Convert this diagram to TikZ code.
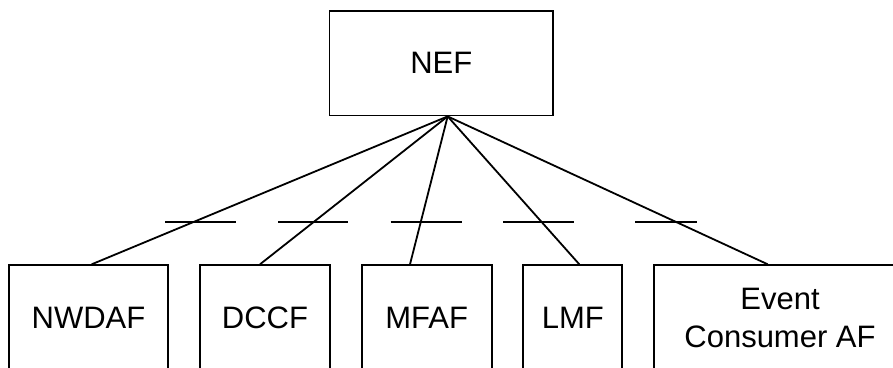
\documentclass[tikz,border=0pt]{standalone}
\usepackage{fontspec}
\setmainfont{Liberation Sans}
\usetikzlibrary{calc}
\begin{document}
\begin{tikzpicture}[x=1pt,y=1pt,
  box/.style={draw=black, line width=1.8pt, inner sep=0pt, align=center,
    font=\fontsize{31}{38}\selectfont},
  link/.style={draw=black, line width=1.8pt},
  tick/.style={draw=black, line width=1.8pt}]
\clip (0,0) rectangle (893,367);
\fill[white] (0,0) rectangle (893,367);
% NEF
\node[box, minimum width=223.5pt, minimum height=104.5pt] (nef) at (441.25,303.75) {NEF};
% bottom boxes (top at y=102.7, bottom below the page)
\node[box, anchor=north, minimum width=158.4pt, minimum height=105.7pt] (nwdaf) at (88.5,102.7) {NWDAF};
\node[box, anchor=north, minimum width=130pt, minimum height=105.7pt] (dccf) at (265,102.7) {DCCF};
\node[box, anchor=north, minimum width=130pt, minimum height=105.7pt] (mfaf) at (426.7,102.7) {MFAF};
\node[box, anchor=north, minimum width=99pt, minimum height=105.7pt] (lmf) at (572.8,102.7) {LMF};
\node[box, anchor=north, minimum width=252.6pt, minimum height=105.7pt] (eca) at (780,102.7) {Event\\Consumer AF};
% connectors
\coordinate (apex) at ($(nef.south)+(6.4,0)$);
\draw[link] (apex) -- ($(nwdaf.north)+(3.2,0)$);
\draw[link] (apex) -- ($(dccf.north)+(-5,0)$);
\draw[link] (apex) -- ($(mfaf.north)+(-16.7,0)$);
\draw[link] (apex) -- ($(lmf.north)+(6.5,0)$);
\draw[link] (apex) -- ($(eca.north)+(-12.3,0)$);
% tick marks
\draw[tick] (165,145.3) -- (236,145.3);
\draw[tick] (278,145.3) -- (348,145.3);
\draw[tick] (390.7,145.3) -- (461.7,145.3);
\draw[tick] (503.3,145.3) -- (574.3,145.3);
\draw[tick] (635,145.3) -- (696.7,145.3);
\end{tikzpicture}
\end{document}
